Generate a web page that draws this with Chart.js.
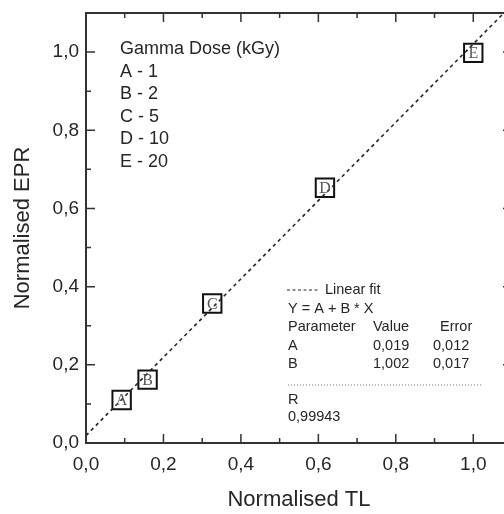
<!DOCTYPE html>
<html>
<head>
<meta charset="utf-8">
<script src="https://cdn.jsdelivr.net/npm/chart.js@4/dist/chart.umd.min.js"></script>
<style>
html,body{margin:0;padding:0;background:#fff;overflow:hidden;width:504px;height:514px;}
canvas{display:block;}
</style>
</head>
<body>
<canvas id="c" width="520" height="514" style="width:520px;height:514px"></canvas>
<script>
// ---- data ----
const categories = ['A', 'B', 'C', 'D', 'E'];
const doses = ['1', '2', '5', '10', '20'];
const tlValues = [0.092, 0.159, 0.326, 0.617, 1.0];
const eprValues = [0.110, 0.162, 0.357, 0.653, 0.998];
const fitX = [0, 1.1];
const fitY = [0.019, 1.121];
const legendTitle = 'Gamma Dose (kGy)';
const fitTitle = 'Linear fit';
const fitEquation = 'Y = A + B * X';
const fitHeader = ['Parameter', 'Value', 'Error'];
const fitRowA = ['A', '0,019', '0,012'];
const fitRowB = ['B', '1,002', '0,017'];
const fitRLabel = 'R';
const fitRValue = '0,99943';
const axisMin = 0, axisMax = 1.1, axisStep = 0.1;
const xTitle = 'Normalised TL';
const yTitle = 'Normalised EPR';

const INK = '#262626';
const fmt = v => {
  const t = Math.round(v * 10);
  return t % 2 === 0 ? (t / 10).toFixed(1).replace('.', ',') : '';
};

const framePlugin = {
  id: 'frame',
  afterDatasetsDraw(chart) {
    const {ctx} = chart;
    ctx.save();
    const meta = chart.getDatasetMeta(1);
    ctx.font = '16px "Liberation Serif", "Times New Roman", serif';
    ctx.fillStyle = '#555';
    ctx.textAlign = 'center';
    ctx.textBaseline = 'middle';
    meta.data.forEach((p, i) => ctx.fillText(categories[i], p.x, p.y + 1));
    ctx.restore();
  },
  afterDraw(chart) {
    const {ctx, chartArea: a, scales: {x, y}} = chart;
    ctx.save();
    ctx.strokeStyle = '#333';
    ctx.lineWidth = 1.5;
    const n = Math.round((axisMax - axisMin) / axisStep);
    for (let i = 0; i <= n; i++) {
      const v = axisMin + i * axisStep;
      const len = (i % 2 === 0) ? 9 : 5;
      const px = x.getPixelForValue(v), py = y.getPixelForValue(v);
      ctx.beginPath();
      ctx.moveTo(px, a.bottom); ctx.lineTo(px, a.bottom - len);
      ctx.moveTo(px, a.top); ctx.lineTo(px, a.top + len);
      ctx.moveTo(a.left, py); ctx.lineTo(a.left + len, py);
      ctx.moveTo(a.right, py); ctx.lineTo(a.right - len, py);
      ctx.stroke();
    }
    ctx.lineWidth = 2;
    ctx.strokeRect(a.left, a.top, a.right - a.left, a.bottom - a.top);

    // dose legend
    ctx.fillStyle = INK;
    ctx.textAlign = 'left';
    ctx.textBaseline = 'middle';
    ctx.font = '18px "Liberation Sans", Arial, sans-serif';
    const lx = a.left + 34;
    ctx.fillText(legendTitle, lx, 49);
    categories.forEach((c, i) => ctx.fillText(c + ' - ' + doses[i], lx, 72 + i * 22.5));

    // fit results box
    ctx.font = '14.5px "Liberation Sans", Arial, sans-serif';
    const bx = 288;
    ctx.strokeStyle = INK;
    ctx.lineWidth = 1.2;
    ctx.setLineDash([3, 2.5]);
    ctx.beginPath(); ctx.moveTo(bx - 1, 290); ctx.lineTo(bx + 30, 290); ctx.stroke();
    ctx.fillText(fitTitle, 325, 290);
    ctx.fillText(fitEquation, bx, 309);
    ctx.fillText(fitHeader[0], bx, 327);
    ctx.fillText(fitHeader[1], 373, 327);
    ctx.fillText(fitHeader[2], 440, 327);
    [fitRowA, fitRowB].forEach((r, i) => {
      const yy = 346 + i * 17.5;
      ctx.fillText(r[0], bx, yy);
      ctx.fillText(r[1], 373, yy);
      ctx.fillText(r[2], 433, yy);
    });
    ctx.strokeStyle = '#777';
    ctx.lineWidth = 1;
    ctx.setLineDash([1, 2]);
    ctx.beginPath(); ctx.moveTo(bx, 385); ctx.lineTo(483, 385); ctx.stroke();
    ctx.setLineDash([]);
    ctx.fillText(fitRLabel, bx, 400);
    ctx.fillText(fitRValue, bx, 417);
    ctx.restore();
  }
};

const tickFont = {family: '"Liberation Sans", Arial, sans-serif', size: 19};
const titleFont = {family: '"Liberation Sans", Arial, sans-serif', size: 22};

new Chart(document.getElementById('c'), {
  type: 'scatter',
  data: {
    datasets: [
      {
        label: 'Linear fit',
        data: fitX.map((v, i) => ({x: v, y: fitY[i]})),
        showLine: true,
        borderColor: INK,
        borderWidth: 1.6,
        borderDash: [3.5, 3.5],
        pointRadius: 0,
        fill: false
      },
      {
        label: 'Samples',
        data: tlValues.map((v, i) => ({x: v, y: eprValues[i]})),
        pointStyle: 'rect',
        pointRadius: 13,
        pointBorderWidth: 2,
        pointBorderColor: '#111',
        pointBackgroundColor: 'rgba(0,0,0,0)',
        showLine: false
      }
    ]
  },
  options: {
    responsive: false,
    animation: false,
    devicePixelRatio: 1,
    layout: {autoPadding: false, padding: {top: 13, right: 8, left: 0, bottom: 0}},
    plugins: {legend: {display: false}, tooltip: {enabled: false}},
    scales: {
      x: {
        type: 'linear', min: axisMin, max: axisMax,
        grid: {display: false, drawTicks: false},
        border: {display: false},
        afterFit: s => { s.height = 71; s.paddingLeft = 0; s.paddingRight = 0; },
        ticks: {stepSize: axisStep, autoSkip: false, maxRotation: 0, color: INK, font: tickFont, padding: 10, callback: v => fmt(v)},
        title: {display: true, text: xTitle, color: INK, font: titleFont, padding: {top: 0, bottom: 1}}
      },
      y: {
        type: 'linear', min: axisMin, max: axisMax,
        grid: {display: false, drawTicks: false},
        border: {display: false},
        afterFit: s => { s.width = 86; s.paddingTop = 0; s.paddingBottom = 0; },
        ticks: {stepSize: axisStep, autoSkip: false, color: INK, font: tickFont, padding: 7, callback: v => fmt(v)},
        title: {display: true, text: yTitle, color: INK, font: titleFont, padding: {top: 10, bottom: 0}}
      }
    }
  },
  plugins: [framePlugin]
});
</script>
</body>
</html>
